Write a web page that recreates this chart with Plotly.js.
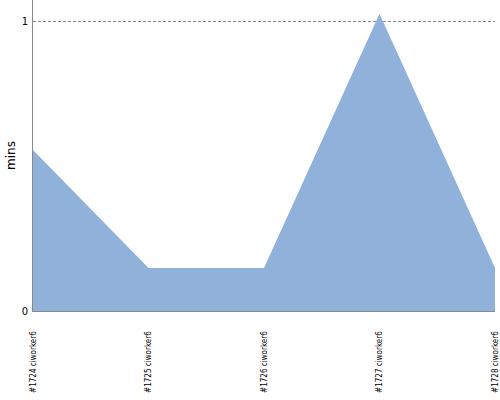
<!DOCTYPE html>
<html><head><meta charset="utf-8">
<script src="https://cdn.plot.ly/plotly-3.0.1.min.js"></script>
<style>html,body{margin:0;padding:0;background:#fff}#c{width:500px;height:400px}</style>
</head><body><div id="c"></div>
<script>
const builds = ["#1724 ciworker6", "#1725 ciworker6", "#1726 ciworker6", "#1727 ciworker6", "#1728 ciworker6"];
const mins = [0.557, 0.149, 0.149, 1.028, 0.149];
const yTicks = [0, 1];

Plotly.newPlot('c', [{
  x: builds, y: mins, type: 'scatter', mode: 'lines', fill: 'tozeroy',
  fillcolor: '#8fb1da', line: {width: 0, color: '#8fb1da'}, hoverinfo: 'x+y'
}], {
  width: 500, height: 400,
  margin: {l: 33, r: 5, t: 0, b: 89},
  paper_bgcolor: '#fff', plot_bgcolor: '#fff',
  showlegend: false,
  xaxis: {
    type: 'category', range: [0, 4], showgrid: false, zeroline: false,
    showline: true, linecolor: '#888', linewidth: 1,
    tickangle: -90, ticks: '', ticklabelstandoff: 16,
    tickfont: {family: 'DejaVu Sans Condensed, DejaVu Sans', size: 8, color: '#000'}
  },
  yaxis: {
    range: [0, 1.076], tickvals: yTicks, ticktext: yTicks.map(String),
    showgrid: true, gridcolor: '#888', griddash: '3px,2px', gridwidth: 1,
    zeroline: false, showline: true, linecolor: '#888', linewidth: 1,
    ticks: '', ticklabelstandoff: 2,
    tickfont: {family: 'DejaVu Sans', size: 10, color: '#000'},
    title: {text: 'mins', font: {family: 'DejaVu Sans', size: 12, color: '#000'}, standoff: 3}
  }
}, {staticPlot: true});
</script></body></html>
